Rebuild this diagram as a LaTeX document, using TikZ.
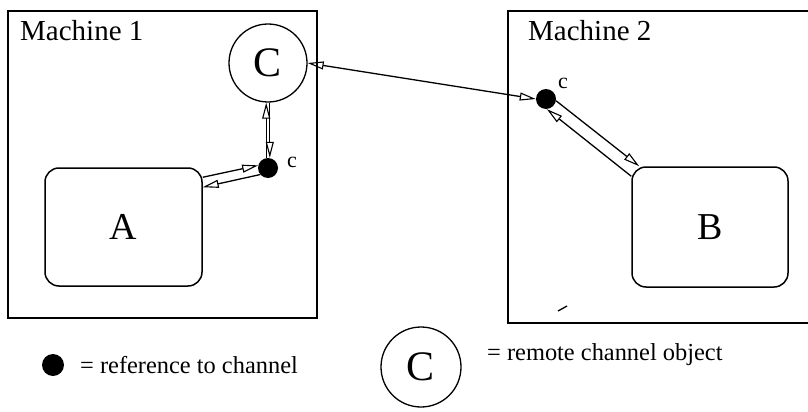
\documentclass[tikz,border=0pt]{standalone}
\usepackage{fontspec}
\setmainfont{Liberation Serif}
\usetikzlibrary{arrows.meta}
\begin{document}
\begin{tikzpicture}[x=1pt,y=-1pt,
  frame/.style={draw, line width=1.5pt},
  machlabel/.style={anchor=base west, inner sep=0pt, font=\fontsize{29}{33}\selectfont},
  objbox/.style={draw, line width=1.5pt, rounded corners=14pt, inner sep=0pt,
    font=\fontsize{38}{42}\selectfont},
  chanobj/.style={draw, circle, line width=1.3pt, inner sep=0pt,
    minimum size=78pt, font=\fontsize{42}{46}\selectfont},
  chanref/.style={fill, circle, inner sep=0pt, minimum size=20pt},
  reflabel/.style={inner sep=0pt, font=\fontsize{22}{24}\selectfont},
  legendtext/.style={anchor=west, inner sep=0pt, font=\fontsize{24.4}{27}\selectfont},
  link/.style={line width=1.3pt},
  opentip/.tip={Triangle[open, length=16pt, width=8pt, line width=1.1pt]},
]
\useasboundingbox (0,0) rectangle (808,412);

% machine frames
\node[frame, minimum width=309pt, minimum height=307pt, inner sep=0pt] (m1) at (162.5,164.5) {};
\draw[frame] (808,11) -- (508,11) -- (508,323) -- (808,323);
\node[machlabel] (m1label) at (20,41) {Machine 1};
\node[machlabel] (m2label) at (528,41) {Machine 2};

% objects
\node[objbox, minimum width=157pt, minimum height=118pt] (A) at (123.5,227) {A};
\node[objbox, minimum width=156pt, minimum height=120pt] (B) at (710,227) {B};
\node[chanobj] (C) at (268,63) {C};

% channel references
\node[chanref] (d1) at (268,168) {};
\node[chanref] (d2) at (546,99) {};
\node[reflabel] (c1) at (292,162) {c};
\node[reflabel] (c2) at (563,83) {c};

% links
\draw[link, opentip-opentip] (C.east) -- (d2.west);
\draw[link, opentip-] ([xshift=-1.8pt]C.south) -- ([xshift=-1.8pt]d1.north);
\draw[link, -opentip] ([xshift=1.8pt]C.south) -- ([xshift=1.8pt]d1.north);
\draw[link, -opentip] ([yshift=-10pt]A.north east) -- (d1.165);
\draw[link, -opentip] (d1.220) -- ([yshift=-20pt]A.north east);
\draw[link, -opentip] (d2.350) -- ([xshift=8pt]B.north west);
\draw[link, -opentip] ([yshift=-10pt]B.north west) -- (d2.275);

% small stroke inside machine 2
\draw[line width=1.3pt] (558,311) -- (567,306);

% legend
\node[chanref, minimum size=22pt] (ld) at (53,365) {};
\node[legendtext] (lt1) at (80,365) {= reference to channel};
\node[chanobj, minimum size=80pt] (lc) at (421,367) {C};
\node[legendtext] (lt2) at (487,355) {= remote channel object};
\end{tikzpicture}
\end{document}
